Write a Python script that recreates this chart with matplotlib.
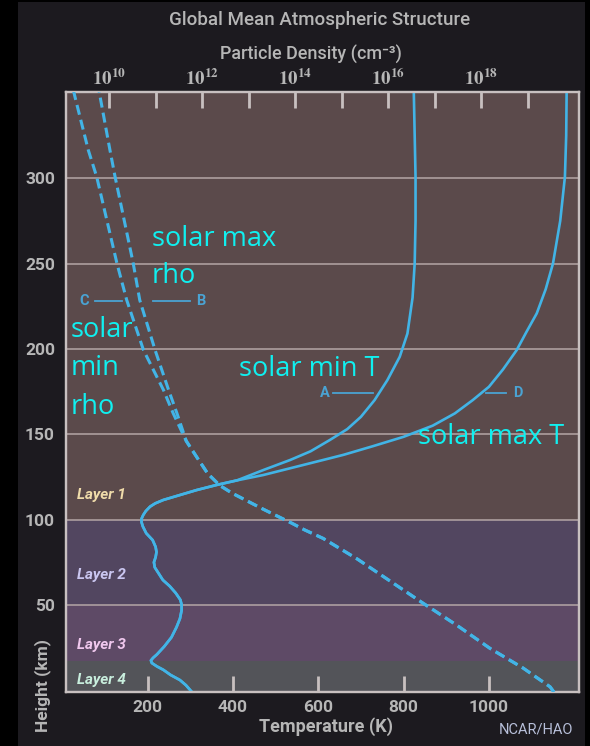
import numpy as np
import matplotlib.pyplot as plt
from matplotlib.patches import Rectangle
from matplotlib.ticker import NullLocator
from matplotlib.transforms import blended_transform_factory

plt.rcParams['font.family'] = ['Roboto', 'DejaVu Sans']
plt.rcParams['mathtext.fontset'] = 'stix'

#%% data ----------------------------------------------------------------------
# temperature (K) vs height (km), shared lower part
h_T_low = [-1, 3, 6, 9, 12, 14, 16, 17.5, 19, 21, 25.6, 31, 37, 42, 47, 50, 53, 57, 61, 64.6,
           68.5, 72, 75, 78, 81, 84, 88, 92, 96, 98.5, 100.5, 102.7, 105, 107.6, 109.5,
           111.5, 114.4, 117.3, 120.3, 123]
T_low = [304, 290, 276, 254, 237, 222, 210, 208, 213, 222, 239, 256, 268, 276, 280, 280, 277, 266, 252, 236,
         226, 217, 215, 219, 221, 219, 212, 197, 189, 186, 186, 190, 196, 206, 218,
         237, 276, 315, 362, 410]
# upper branches
h_Tmin = [129, 134.9, 140, 146.6, 153, 160.2, 170, 181.7, 195.4, 209, 230, 250, 275, 300.8, 325, 349.6, 352]
T_min = [471, 534, 582, 627, 668, 700, 732, 762, 791, 809, 821, 826, 828, 828, 826, 824, 824]
h_Tmax = [126.1, 131, 135.9, 138, 143, 148.5, 155, 162.2, 170, 177.8, 188, 199.3, 210, 220.8, 235,
          250, 275, 300.8, 325, 349.6, 352]
T_max = [471, 549, 627, 660, 728, 800, 868, 920, 962, 1000, 1033, 1065, 1088, 1112, 1133,
         1150, 1167, 1178, 1181, 1182, 1182]

# particle density, log10(cm^-3) vs height (km)
h_n_low = [-1, 2, 13, 24.5, 38, 51, 64, 77, 89, 94, 98, 102, 106, 110.5, 115.4, 120, 127, 136, 146]
logn_low = [19.56, 19.48, 18.9, 18.19, 17.48, 16.75, 16.04, 15.33, 14.6, 14.2, 13.92, 13.62, 13.32,
            13.0, 12.65, 12.38, 12.12, 11.9, 11.66]
h_nmin = [162.2, 175.9, 199.3, 228.6, 250.1, 300.8, 316.4, 347.4, 352]
logn_min = [11.38, 11.17, 10.74, 10.38, 10.17, 9.735, 9.555, 9.27, 9.23]
h_nmax = [162.2, 175.9, 199.3, 228.6, 250.1, 300.8, 316.4, 347.4, 352]
logn_max = [11.46, 11.28, 10.99, 10.66, 10.52, 10.13, 10.02, 9.81, 9.78]

height_ticks = [50, 100, 150, 200, 250, 300]
temp_ticks = [200, 400, 600, 800, 1000]
dens_exp = list(range(10, 20))

layers = [(-5, 17, '#535459', 'Layer 4', '#c8eedd'),
          (17, 50, '#5e4a66', 'Layer 3', '#f0c8ee'),
          (50, 100, '#524660', 'Layer 2', '#cac6f0'),
          (100, 400, '#5b4a4b', 'Layer 1', '#f0dcaa')]
layer_label_h = [6.1, 26.6, 67.6, 114.4]

#%% figure --------------------------------------------------------------------
line_c = '#42b4e6'
frame_c = '#c8c0c0'
txt_c = '#b6b6b6'
cyan = '#10f0f0'
letter_c = '#4aa3d3'

fig = plt.figure(figsize=(5.9, 7.46), dpi=100, facecolor='black')
fig.patches.append(Rectangle((18/590, 0), 567/590, 744/746, transform=fig.transFigure,
                             facecolor='#1c1a1f', edgecolor='none', zorder=-5))
ax = fig.add_axes([66/590, 1-692/746, 513/590, 600/746])
ax2 = ax.twiny()
ax.set_xlim(9, 1211)
ax.set_ylim(-1, 350.5)

for (lo, hi, col, name, tcol), hl in zip(layers, layer_label_h):
    ax.axhspan(lo, hi, color=col, lw=0, zorder=0)
    ax.text(35, hl, name, color=tcol, fontsize=11, style='italic', weight='bold',
            va='center', ha='left', zorder=3)
for h in height_ticks:
    ax.axhline(h, color='#b4a6a6', lw=1.1, zorder=1)

T_lo = np.array(T_low)
ax.plot(np.concatenate([T_lo, T_min]), np.concatenate([h_T_low, h_Tmin]),
        color=line_c, lw=1.9, zorder=4, solid_capstyle='round')
ax.plot(np.concatenate([T_lo, T_max]), np.concatenate([h_T_low, h_Tmax]),
        color=line_c, lw=1.9, zorder=4, solid_capstyle='round')

ax.set_xticks(temp_ticks)
ax.set_yticks(height_ticks)
ax.tick_params(axis='x', length=0, labelcolor=txt_c, labelsize=12.5, pad=6)
ax.tick_params(axis='y', length=0, labelcolor=txt_c, labelsize=12.5, pad=8)
for lab in ax.get_xticklabels() + ax.get_yticklabels():
    lab.set_fontweight('bold')
for s in ax.spines.values():
    s.set_color(frame_c)
    s.set_linewidth(1.6)

# density axis on top
ax2.set_xscale('log')
ax2.set_xlim(10**9.075, 10**20.1)
for hh, ln in [(h_nmin, logn_min), (h_nmax, logn_max)]:
    ax2.plot(10**np.concatenate([logn_low, ln]), np.concatenate([h_n_low, hh]),
             color=line_c, lw=2.2, dashes=(3.3, 1.7), zorder=4)
dens_ticks = [10.0**k for k in dens_exp]
ax2.set_xticks(dens_ticks)
ax2.set_xticklabels([r'$\mathbf{10^{%d}}$' % k if k % 2 == 0 else '' for k in dens_exp])
ax2.xaxis.set_minor_locator(NullLocator())
ax2.tick_params(axis='x', which='both', length=0, labelcolor=txt_c, labelsize=13.5, pad=2)
# inward tick marks, top (density) and bottom (temperature)
ax2.vlines(dens_ticks, 0.974, 1, transform=ax2.get_xaxis_transform(), color=frame_c,
           lw=2, zorder=5)
temp_trans = blended_transform_factory(ax.transData, ax.transAxes)
ax2.vlines(temp_ticks, 0, 0.026, transform=temp_trans, color=frame_c, lw=2, zorder=5)
for s in ax2.spines.values():
    s.set_color(frame_c)
    s.set_linewidth(1.6)

# letter markers
ax.plot([77, 140], [228, 228], color=letter_c, lw=1.3)
ax.plot([213, 300], [228, 228], color=letter_c, lw=1.3)
ax.plot([634, 728], [174, 174], color=letter_c, lw=1.3)
ax.plot([993, 1040], [174, 174], color=letter_c, lw=1.3)
for x, y, s in [(51, 228, 'C'), (325, 228, 'B'), (616, 174, 'A'), (1068, 174, 'D')]:
    ax.text(x, y, s, color=letter_c, fontsize=10.5, weight='bold', ha='center', va='center')

# cyan annotations
for x, y, s in [(210, 264.3, 'solar max'), (210, 242.6, 'rho'), (21, 211, 'solar'),
                (21, 188.8, 'min'), (21, 165.9, 'rho'), (414, 188.2, 'solar min T'),
                (833, 148.4, 'solar max T')]:
    ax.text(x, y, s, color=cyan, fontsize=19.5, family=['Open Sans', 'DejaVu Sans'],
            ha='left', va='center', zorder=7)

fig.text(320/590, 1-20/746, 'Global Mean Atmospheric Structure', color=txt_c,
         fontsize=13.5, weight='medium', ha='center', va='center')
fig.text(311/590, 1-54/746, 'Particle Density (cm⁻³)', color=txt_c,
         fontsize=13, weight='medium', ha='center', va='center')
fig.text(326/590, 1-727/746, 'Temperature (K)', color=txt_c, fontsize=13,
         weight='bold', ha='center', va='center')
fig.text(43/590, 1-685/746, 'Height (km)', color=txt_c, fontsize=12.5,
         weight='bold', ha='center', va='center', rotation=90)
fig.text(536/590, 1-729/746, 'NCAR/HAO', color='#b7bfd9', fontsize=10.5,
         ha='center', va='center')

fig.savefig('out.png', dpi=100, facecolor='black')
